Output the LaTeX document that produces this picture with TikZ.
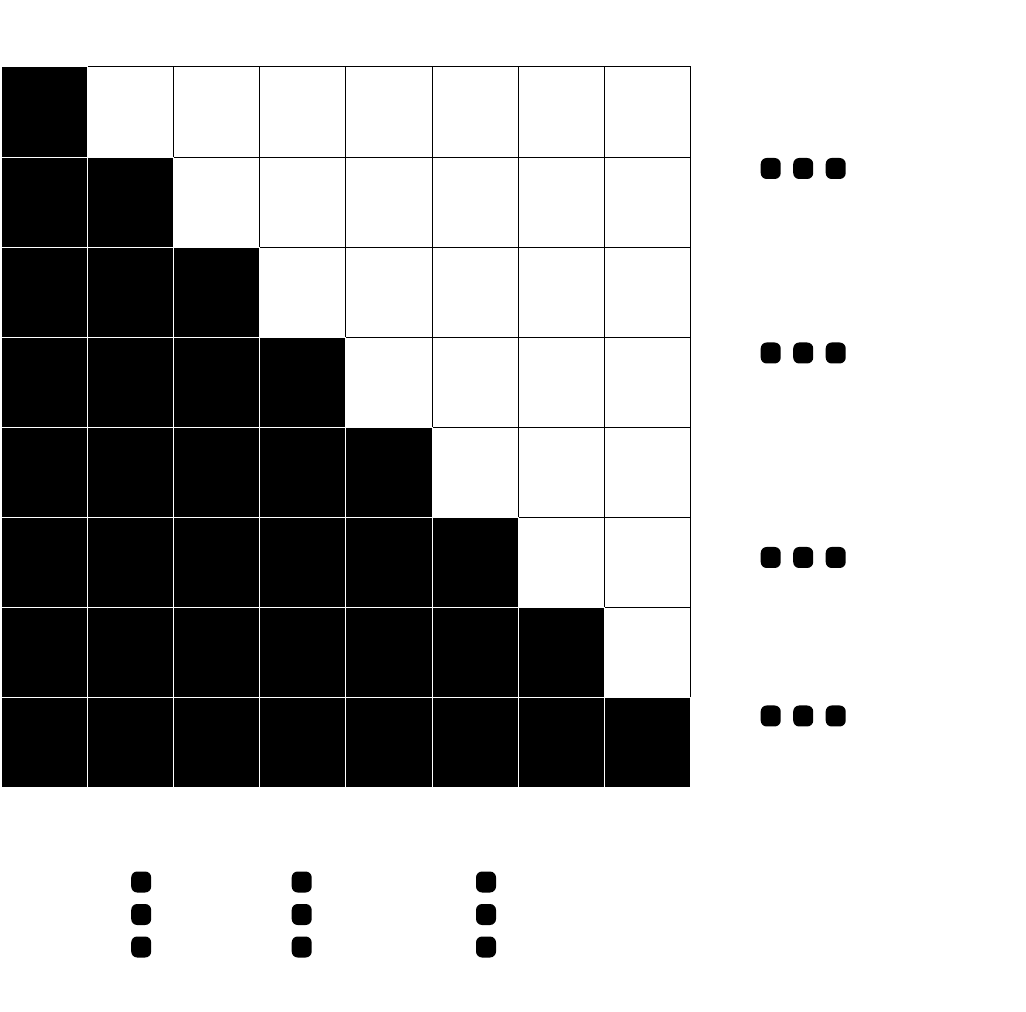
\documentclass[tikz,border=0pt]{standalone}
\begin{document}
\begin{tikzpicture}[x=0.75pt,y=-0.75pt,
  blackcell/.style={fill=black,draw=white,line width=0.75pt},
  whitecell/.style={fill=white,draw=black,line width=0.75pt},
  dotmark/.style={fill=black,draw=none,rounded corners=4.5pt,minimum width=15pt,minimum height=15.75pt,inner sep=0pt}]
\useasboundingbox (0,0) rectangle (1026,1012);
\def\cw{86.2}
\def\ch{90.1}
% white cells first
\foreach \r in {0,...,7}{
  \foreach \c in {0,...,7}{
    \ifnum\c>\r
      \draw[whitecell] ({1+\c*\cw},{67+\r*\ch}) rectangle ({1+(\c+1)*\cw},{67+(\r+1)*\ch});
    \fi
  }
}
% black cells
\foreach \r in {0,...,7}{
  \foreach \c in {0,...,7}{
    \ifnum\c>\r\relax\else
      \draw[blackcell] ({1+\c*\cw},{67+\r*\ch}) rectangle ({1+(\c+1)*\cw},{67+(\r+1)*\ch});
    \fi
  }
}
% right-hand dots
\foreach \y [count=\i] in {168.5,353,557.5,716}{
  \node[dotmark] (ra\i) at (770.7,\y) {};
  \node[dotmark] (rb\i) at (803.2,\y) {};
  \node[dotmark] (rc\i) at (835.7,\y) {};
}
% bottom dots
\foreach \x [count=\i] in {141.2,301.7,486}{
  \node[dotmark] (ba\i) at (\x,882) {};
  \node[dotmark] (bb\i) at (\x,914.5) {};
  \node[dotmark] (bc\i) at (\x,947) {};
}
\end{tikzpicture}
\end{document}
